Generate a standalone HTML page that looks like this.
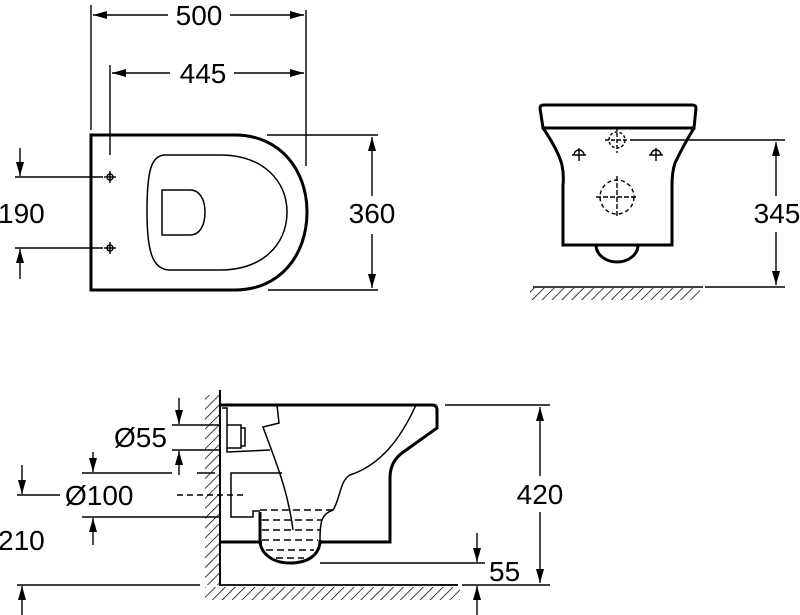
<!DOCTYPE html>
<html><head><meta charset="utf-8"><style>
html,body{margin:0;padding:0;background:#fff;}
svg{display:block;}
text{font-family:"Liberation Sans",Arial,sans-serif;font-size:28px;fill:#000;}
</style></head><body>
<svg width="800" height="615" viewBox="0 0 800 615" xmlns="http://www.w3.org/2000/svg">
<defs>
<pattern id="h" patternUnits="userSpaceOnUse" width="7" height="7" patternTransform="rotate(45)">
<line x1="0" y1="0" x2="0" y2="7" stroke="#000" stroke-width="1.5"/>
</pattern>
<marker id="a" markerWidth="14" markerHeight="8" refX="14" refY="4" orient="auto" markerUnits="userSpaceOnUse">
<path d="M0,0 L14,4 L0,8 Z" fill="#000"/>
</marker>
</defs>
<g stroke="#000" fill="none" stroke-width="1.4">
<!-- TOP VIEW -->
<path d="M91,135 H235 C280,135 307,170 307,212 C307,255 280,290 235,290 H91 Z" stroke-width="3"/>
<path d="M165,155 H220 C262,155 287,180 287,212 C287,245 262,270 220,270 H170 C152,270 147,250 147,212 C147,175 150,155 165,155 Z" stroke-width="1.5"/>
<path d="M162,190 H190 C200,190 205,200 205,212 C205,225 200,235 190,235 H162 Z" stroke-width="1.5"/>
<circle cx="110" cy="177" r="3"/><line x1="104" y1="177" x2="116" y2="177"/><line x1="110" y1="171" x2="110" y2="183"/>
<circle cx="110" cy="248" r="3"/><line x1="104" y1="248" x2="116" y2="248"/><line x1="110" y1="242" x2="110" y2="254"/>
<line x1="91" y1="5" x2="91" y2="130"/><line x1="306" y1="10" x2="306" y2="166"/>
<line x1="168" y1="15" x2="93" y2="15" marker-end="url(#a)"/><line x1="230" y1="15" x2="304" y2="15" marker-end="url(#a)"/>
<line x1="110" y1="65" x2="110" y2="155"/>
<line x1="170" y1="73" x2="112" y2="73" marker-end="url(#a)"/><line x1="234" y1="73" x2="304" y2="73" marker-end="url(#a)"/>
<line x1="267" y1="135" x2="378" y2="135"/><line x1="268" y1="290" x2="378" y2="290"/>
<line x1="372" y1="196" x2="372" y2="137" marker-end="url(#a)"/><line x1="372" y1="234" x2="372" y2="288" marker-end="url(#a)"/>
<line x1="15" y1="177" x2="103" y2="177"/><line x1="15" y1="248" x2="103" y2="248"/>
<line x1="20" y1="148" x2="20" y2="176" marker-end="url(#a)"/><line x1="20" y1="279" x2="20" y2="249" marker-end="url(#a)"/>

<!-- FRONT VIEW -->
<path d="M543,128 L540,108 Q540,105 544,105 H692 Q696,105 696,108 L694,128 Z" stroke-width="3"/>
<path d="M543,128 Q558,150 562,165 Q564,175 563,185 V245 H672 V185 Q672,172 675,163 Q683,146 694,128" stroke-width="3"/>
<path d="M596,245 A21,17 0 0 0 638,245" stroke-width="3"/>
<circle cx="617" cy="140" r="8" stroke-dasharray="3,2"/><line x1="605" y1="140" x2="629" y2="140" stroke-dasharray="4,2"/><line x1="617" y1="127" x2="617" y2="153" stroke-dasharray="4,2"/>
<circle cx="617" cy="197" r="17" stroke-dasharray="4,3"/><line x1="596" y1="197" x2="638" y2="197" stroke-dasharray="5,2"/><line x1="617" y1="176" x2="617" y2="218" stroke-dasharray="5,2"/>
<path d="M574,155 A5,5 0 0 1 584,155 M572,155 H586 M579,148 V161"/>
<path d="M651,155 A5,5 0 0 1 661,155 M649,155 H663 M656,148 V161"/>
<line x1="630" y1="140" x2="785" y2="140"/><line x1="705" y1="287" x2="785" y2="287"/>
<line x1="776" y1="196" x2="776" y2="142" marker-end="url(#a)"/><line x1="776" y1="232" x2="776" y2="285" marker-end="url(#a)"/>
<line x1="533" y1="287" x2="703" y2="287" stroke-width="1.5"/>
<rect x="530" y="288" width="170" height="12" fill="url(#h)" stroke="none"/>

<!-- SIDE VIEW -->
<rect x="205" y="395" width="14" height="190" fill="url(#h)" stroke="none"/>
<rect x="205" y="587" width="255" height="13" fill="url(#h)" stroke="none"/>
<line x1="220" y1="390" x2="220" y2="586" stroke-width="2"/>
<line x1="219" y1="585" x2="458" y2="585" stroke-width="1.8"/>
<path d="M220,405 H432 Q437,405 437,410 V428 L402,453 Q390,462 390,478 V542 H320" stroke-width="3"/>
<path d="M262,542 H220" stroke-width="3"/>
<path d="M320,540 C320,555 308,563 290,563 C272,563 260,553 260,540 V512" stroke-width="3"/>
<path d="M416,405 C400,440 380,465 350,475 C340,480 340,500 333,510 C322,514 320,520 320,540" stroke-width="1.5"/>
<path d="M222,408 H227 V452 L270,450" stroke-width="1.5"/>
<path d="M227,425 H241 V448 H227 M241,428 H245 V446 H241" stroke-width="1.5"/>
<path d="M277,405 L279,423 L263,427 C275,460 288,490 293,530" stroke-width="1.5"/>
<path d="M282,473 H231 V517 H253 V511 H260" stroke-width="1.5"/>
<g stroke-dasharray="7,4">
<line x1="260" y1="510" x2="334" y2="510"/><line x1="262" y1="520" x2="322" y2="520"/>
<line x1="262" y1="530" x2="320" y2="530"/><line x1="262" y1="540" x2="318" y2="540"/>
<line x1="266" y1="550" x2="314" y2="550"/><line x1="276" y1="558" x2="304" y2="558"/>
</g>
<line x1="445" y1="405" x2="550" y2="405"/><line x1="462" y1="585" x2="550" y2="585"/>
<line x1="540" y1="476" x2="540" y2="407" marker-end="url(#a)"/><line x1="540" y1="512" x2="540" y2="583" marker-end="url(#a)"/>
<line x1="320" y1="563" x2="485" y2="563"/>
<line x1="477" y1="533" x2="477" y2="562" marker-end="url(#a)"/><line x1="477" y1="615" x2="477" y2="586" marker-end="url(#a)"/>
<line x1="440" y1="585" x2="457" y2="585"/>
<line x1="172" y1="425" x2="220" y2="425"/><line x1="172" y1="450" x2="220" y2="450"/>
<line x1="179" y1="398" x2="179" y2="424" marker-end="url(#a)"/><line x1="179" y1="475" x2="179" y2="451" marker-end="url(#a)"/>
<line x1="82" y1="473" x2="172" y2="473"/><line x1="197" y1="473" x2="215" y2="473"/>
<line x1="82" y1="517" x2="220" y2="517"/>
<line x1="93" y1="452" x2="93" y2="472" marker-end="url(#a)"/><line x1="93" y1="545" x2="93" y2="518" marker-end="url(#a)"/>
<line x1="177" y1="495" x2="243" y2="495" stroke-dasharray="6,4"/>
<line x1="17" y1="495" x2="60" y2="495"/>
<line x1="17" y1="585" x2="200" y2="585"/>
<line x1="22" y1="465" x2="22" y2="494" marker-end="url(#a)"/><line x1="22" y1="615" x2="22" y2="586" marker-end="url(#a)"/>
</g>
<text x="199" y="25" text-anchor="middle">500</text>
<text x="203" y="83" text-anchor="middle">445</text>
<text x="372" y="223" text-anchor="middle">360</text>
<text x="-2" y="223">190</text>
<text x="777" y="223" text-anchor="middle">345</text>
<text x="540" y="504" text-anchor="middle">420</text>
<text x="489" y="581">55</text>
<text x="114" y="447">Ø55</text>
<text x="65" y="505">Ø100</text>
<text x="-2" y="550">210</text>
</svg>
</body></html>
